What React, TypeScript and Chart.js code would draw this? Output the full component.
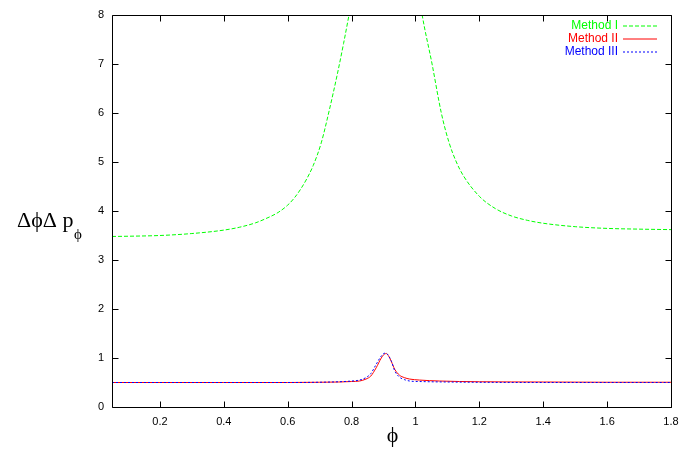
import React, { useEffect, useRef } from "react";
import { Chart, registerables } from "chart.js";

Chart.register(...registerables);

// ---- data ----
const phiI: number[] = [0.05, 0.1, 0.2, 0.3, 0.4, 0.45, 0.5, 0.53, 0.57, 0.6, 0.62, 0.64, 0.66, 0.68, 0.705, 0.73, 0.755, 0.775, 0.792, 0.81, 0.84, 0.9,
  0.98, 1.0, 1.021, 1.052, 1.081, 1.105, 1.128, 1.15, 1.2, 1.25, 1.3, 1.35, 1.4, 1.5, 1.6, 1.7, 1.8];
const valI: (number | null)[] = [3.48, 3.485, 3.5, 3.54, 3.61, 3.67, 3.76, 3.84, 3.97, 4.12, 4.26, 4.44, 4.66, 4.93, 5.39, 6.05, 6.78, 7.42, 8.0, 8.6, 10.5, null,
  10.2, 8.9, 8.0, 7.0, 6.0, 5.4, 5.0, 4.72, 4.3, 4.05, 3.9, 3.81, 3.75, 3.68, 3.645, 3.63, 3.62];

const phiII: number[] = [0.05, 0.2, 0.4, 0.6, 0.7, 0.76, 0.8, 0.825, 0.845, 0.86, 0.877, 0.893, 0.903, 0.909, 0.915, 0.925, 0.935,
  0.95, 0.965, 0.982, 1.013, 1.076, 1.2, 1.4, 1.6, 1.8];
const valII: number[] = [0.5, 0.5, 0.5, 0.5, 0.505, 0.51, 0.52, 0.53, 0.57, 0.63, 0.8, 1.0, 1.08, 1.09, 1.05, 0.92, 0.77,
  0.65, 0.6, 0.57, 0.55, 0.53, 0.515, 0.51, 0.505, 0.505];

const phiIII: number[] = [0.05, 0.2, 0.4, 0.6, 0.7, 0.76, 0.8, 0.825, 0.845, 0.86, 0.877, 0.893, 0.905, 0.912, 0.925, 0.935,
  0.95, 0.965, 0.982, 1.013, 1.1, 1.4, 1.8];
const valIII: number[] = [0.5, 0.5, 0.5, 0.5, 0.505, 0.515, 0.53, 0.55, 0.6, 0.68, 0.87, 1.04, 1.1, 1.08, 0.93, 0.74,
  0.61, 0.56, 0.53, 0.52, 0.51, 0.5, 0.5];

const seriesNames: string[] = ["Method I", "Method II", "Method III"];
const xTickValues: number[] = [0.2, 0.4, 0.6, 0.8, 1.0, 1.2, 1.4, 1.6, 1.8];
const yTickValues: number[] = [0, 1, 2, 3, 4, 5, 6, 7, 8];
const xTitle = "ϕ";
const yTitleMain = "ΔϕΔ p";
const yTitleSub = "ϕ";

const colors = ["#00ff00", "#ff0000", "#0000ff"];
const dashes: number[][] = [[4, 2], [], [2, 2]];

const toPoints = (xs: number[], ys: (number | null)[]) => xs.map((x, i) => ({ x, y: ys[i] }));

const gnuplotPlugin = {
  id: "gnuplotDecor",
  afterDraw(chart: any) {
    const ctx: CanvasRenderingContext2D = chart.ctx;
    const area = chart.chartArea;
    const xs = chart.scales.x;
    const ys = chart.scales.y;
    ctx.save();
    ctx.setLineDash([]);
    ctx.lineWidth = 1;
    ctx.strokeStyle = "#000000";
    const L = Math.round(area.left) + 0.5;
    const R = Math.round(area.right) + 0.5;
    const T = Math.round(area.top) + 0.5;
    const B = Math.round(area.bottom) + 0.5;
    const tl = 6;
    ctx.beginPath();
    ctx.moveTo(L, T);
    ctx.lineTo(R, T);
    ctx.lineTo(R, B);
    ctx.lineTo(L, B);
    ctx.closePath();
    for (const v of xTickValues) {
      const px = Math.round(xs.getPixelForValue(v)) + 0.5;
      ctx.moveTo(px, B); ctx.lineTo(px, B - tl);
      ctx.moveTo(px, T); ctx.lineTo(px, T + tl);
    }
    for (const v of yTickValues) {
      const py = Math.round(ys.getPixelForValue(v)) + 0.5;
      ctx.moveTo(L, py); ctx.lineTo(L + tl, py);
      ctx.moveTo(R, py); ctx.lineTo(R - tl, py);
    }
    ctx.stroke();

    // legend
    ctx.font = '12px "Liberation Sans", Arial, sans-serif';
    ctx.textAlign = "right";
    ctx.textBaseline = "middle";
    const rows = [26, 39, 52];
    for (let i = 0; i < seriesNames.length; i++) {
      ctx.fillStyle = colors[i];
      ctx.fillText(seriesNames[i], 618, rows[i]);
      ctx.beginPath();
      ctx.strokeStyle = colors[i];
      ctx.setLineDash(dashes[i]);
      ctx.moveTo(623, rows[i]);
      ctx.lineTo(657, rows[i]);
      ctx.stroke();
    }
    ctx.setLineDash([]);

    // axis titles
    ctx.fillStyle = "#000";
    ctx.textAlign = "left";
    ctx.textBaseline = "alphabetic";
    ctx.font = '22px "Liberation Serif", "Times New Roman", serif';
    ctx.fillText(yTitleMain, 17, 227);
    const w = ctx.measureText(yTitleMain).width;
    ctx.font = '15px "Liberation Serif", "Times New Roman", serif';
    ctx.fillText(yTitleSub, 17 + w + 0.5, 239);

    ctx.textAlign = "center";
    ctx.font = '22px "Liberation Serif", "Times New Roman", serif';
    ctx.fillText(xTitle, (area.left + area.right) / 2 + 1, 442);
    ctx.restore();
  },
};

export default function App() {
  const ref = useRef<HTMLCanvasElement | null>(null);
  useEffect(() => {
    if (!ref.current) return;
    const tickFont = { family: '"Liberation Sans", Arial, sans-serif', size: 11 };
    const chart = new Chart(ref.current, {
      type: "line",
      data: {
        datasets: [
          { label: seriesNames[0], data: toPoints(phiI, valI) as any, order: 2 },
          { label: seriesNames[1], data: toPoints(phiII, valII) as any, order: 1 },
          { label: seriesNames[2], data: toPoints(phiIII, valIII) as any, order: 0 },
        ].map((d, i) => ({
          ...d,
          borderColor: colors[i],
          backgroundColor: colors[i],
          borderWidth: 1,
          borderDash: dashes[i],
          pointRadius: 0,
          fill: false,
          spanGaps: false,
          cubicInterpolationMode: "monotone" as const,
        })),
      },
      options: {
        responsive: true,
        maintainAspectRatio: false,
        animation: false,
        layout: { padding: { top: 15, right: 21, left: 0, bottom: 0 } },
        plugins: { legend: { display: false }, tooltip: { enabled: false } },
        scales: {
          x: {
            type: "linear",
            min: 0.05,
            max: 1.8,
            grid: { display: false, drawTicks: false },
            border: { display: false },
            afterBuildTicks: (s: any) => { s.ticks = xTickValues.map((v) => ({ value: v })); },
            afterFit: (s: any) => { s.height = 52; },
            ticks: {
              color: "#000",
              font: tickFont,
              padding: 8,
              maxRotation: 0,
              autoSkip: false,
              callback: (v: any) => String(+Number(v).toFixed(2)),
            },
          },
          y: {
            type: "linear",
            min: 0,
            max: 8,
            grid: { display: false, drawTicks: false },
            border: { display: false },
            afterBuildTicks: (s: any) => { s.ticks = yTickValues.map((v) => ({ value: v })); },
            afterFit: (s: any) => { s.width = 112; },
            ticks: {
              color: "#000",
              font: tickFont,
              padding: 8,
              autoSkip: false,
              callback: (v: any) => String(+Number(v).toFixed(2)),
            },
          },
        },
      },
      plugins: [gnuplotPlugin],
    });
    return () => chart.destroy();
  }, []);
  return (
    <div style={{ position: "absolute", left: 0, top: 0, width: 692, height: 459, background: "#fff" }}>
      <canvas ref={ref} />
    </div>
  );
}
